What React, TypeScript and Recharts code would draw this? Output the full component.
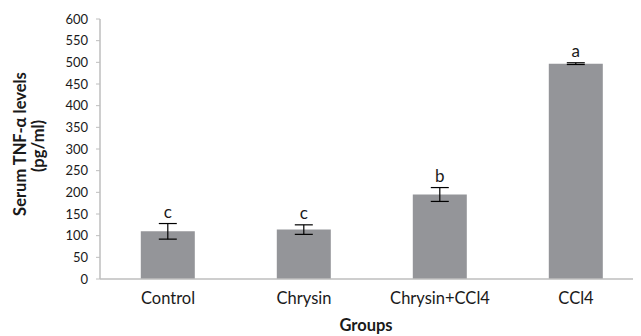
import React from 'react';
import {
  BarChart,
  Bar,
  XAxis,
  YAxis,
  ErrorBar,
  LabelList,
} from 'recharts';

const groups = ['Control', 'Chrysin', 'Chrysin+CCl4', 'CCl4'];
const means = [110, 114, 195, 497];
const sds = [18, 11, 16, 2];
const letters = ['c', 'c', 'b', 'a'];
const yTicks = [0, 50, 100, 150, 200, 250, 300, 350, 400, 450, 500, 550, 600];

const data = groups.map((g, i) => ({ group: g, mean: means[i], sd: sds[i] }));

const FONT = 'Lato, "Open Sans", sans-serif';
const TEXT = '#1a1a1a';

const LetterLabel = (props: any) => {
  const { x, y, width, height, index } = props;
  const pxPerUnit = height / means[index];
  const top = y - sds[index] * pxPerUnit;
  return (
    <text
      x={x + width / 2}
      y={top - 6}
      textAnchor="middle"
      fontSize={17}
      fontFamily={FONT}
      fill={TEXT}
    >
      {letters[index]}
    </text>
  );
};

const YTitle = () => (
  <g fontFamily={FONT} fontWeight={700} fontSize={16.5} fill={TEXT}>
    <text x={18} y={136} textAnchor="middle" transform="rotate(-90, 18, 136)">
      Serum TNF-α levels
    </text>
    <text x={36} y={138} textAnchor="middle" transform="rotate(-90, 36, 138)">
      (pg/ml)
    </text>
  </g>
);

const XTitle = () => (
  <text
    x={358}
    y={323}
    textAnchor="middle"
    fontSize={16.5}
    fontWeight={700}
    fontFamily={FONT}
    fill={TEXT}
  >
    Groups
  </text>
);

export default function App() {
  return (
    <div style={{ width: 633, height: 328, overflow: 'hidden' }}>
      <BarChart
        width={640}
        height={328}
        data={data}
        margin={{ top: 11, right: 4, left: 0, bottom: 0 }}
        barCategoryGap="30%"
      >
        <XAxis
          dataKey="group"
          height={57}
          axisLine={{ stroke: '#BEBEBE', strokeWidth: 1.5 }}
          tickLine={false}
          tickSize={0}
          tickMargin={13}
          tick={{ fontSize: 16.5, fontFamily: FONT, fill: TEXT }}
          label={<XTitle />}
        />
        <YAxis
          width={92}
          domain={[0, 600]}
          ticks={yTicks}
          interval={0}
          axisLine={{ stroke: '#BEBEBE', strokeWidth: 1.5 }}
          tickLine={{ stroke: '#BEBEBE' }}
          tickSize={4}
          tickMargin={8}
          tick={{ fontSize: 13, fontFamily: FONT, fill: TEXT }}
          label={<YTitle />}
        />
        <Bar dataKey="mean" fill="#949599" isAnimationActive={false}>
          <ErrorBar dataKey="sd" width={9} stroke="#000" strokeWidth={1.2} />
          <LabelList dataKey="mean" content={<LetterLabel />} />
        </Bar>
      </BarChart>
    </div>
  );
}
